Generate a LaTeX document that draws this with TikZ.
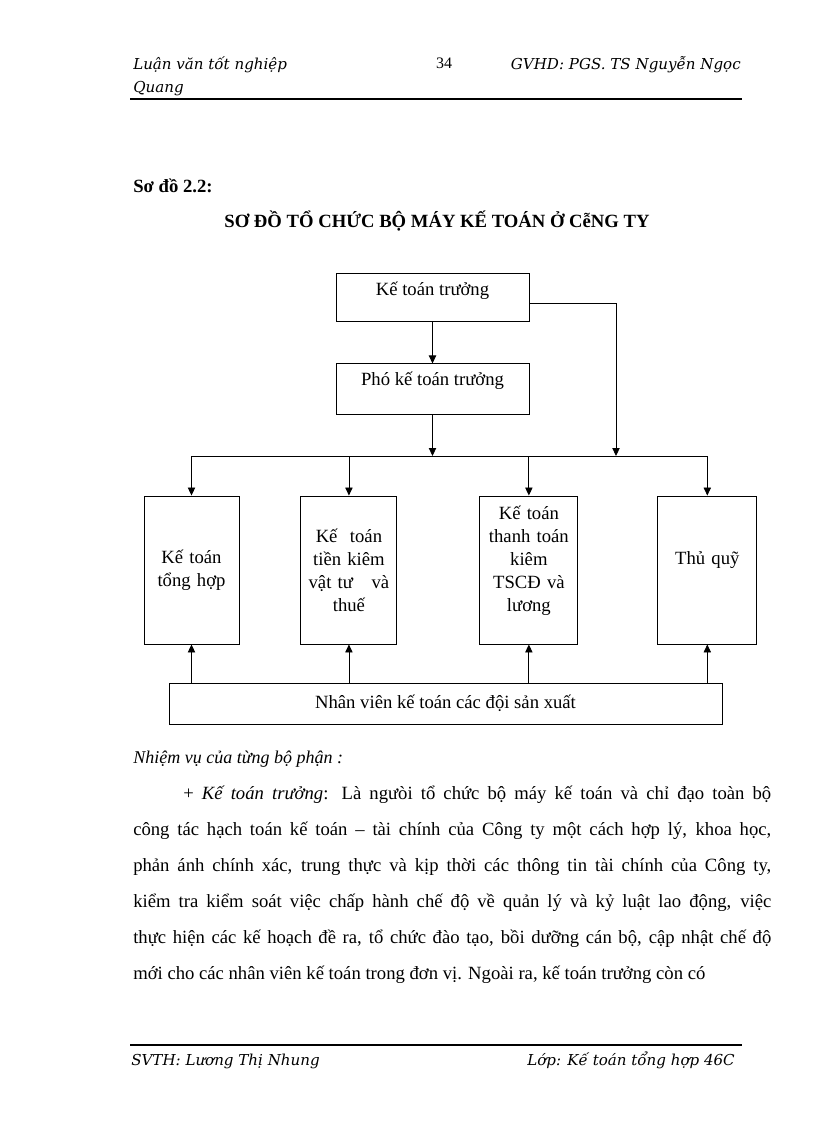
\documentclass[tikz,border=0pt]{standalone}
\usepackage{fontspec}
\setmainfont{Liberation Serif}
\newfontfamily\hdfont{DejaVu Serif}
\usetikzlibrary{positioning,arrows.meta,calc}
\newcommand\boxfont{\fontsize{14}{17.25}\selectfont}
\tikzset{
  box/.style={rectangle,draw=black,line width=0.7pt,align=center,inner sep=2pt,
    font=\boxfont},
  col/.style={box,minimum width=72pt,minimum height=111pt,text width=66pt},
  fl/.style={-{Triangle[length=6pt,width=5.5pt]},line width=0.65pt},
  hd/.style={font=\hdfont\itshape\fontsize{11.3}{14}\selectfont,inner sep=0pt},
  rule/.style={line width=1.8pt},
}
\begin{document}
\begin{tikzpicture}[x=0.75pt,y=-0.75pt]
  \useasboundingbox (0,0) rectangle (816,1123);
  % header and footer
  \node[hd,anchor=base west] (lv) at (133,70) {Luận văn tốt nghiệp};
  \node[hd,anchor=base west] (qg) at (133,93) {Quang};
  \node[inner sep=0pt,anchor=base,font=\fontsize{12}{14}\selectfont] (pg) at (444,69) {34};
  \node[hd,anchor=base east] (gv) at (741,70) {GVHD: PGS. TS Nguyễn Ngọc};
  \draw[rule] (130,99) -- (742,99);
  \draw[rule] (130,1045) -- (742,1045);
  \node[hd,anchor=base west] (sv) at (131,1065) {SVTH: Lương Thị Nhung};
  \node[hd,anchor=base east] (lop) at (735,1065) {Lớp: Kế toán tổng hợp 46C};
  % titles
  \node[inner sep=0pt,anchor=base west,font=\bfseries\fontsize{14}{16}\selectfont] (so) at (133,193) {Sơ đồ 2.2:};
  \node[inner sep=0pt,anchor=base,font=\bfseries\fontsize{14}{16}\selectfont] (tt) at (437,228)
    {SƠ ĐỒ TỔ CHỨC BỘ MÁY KẾ TOÁN Ở CễNG TY};
  % chart
  \node[box,minimum width=144.75pt,minimum height=36pt,text height=9pt,text depth=12pt] (kt) at (432.5,297) {Kế toán trưởng};
  \node[box,minimum width=144.75pt,minimum height=38pt,text height=9pt,text depth=15pt,below=31.5pt of kt] (pho) {Phó kế toán trưởng};
  \node[col,minimum width=71.25pt] (tonghop) at (191.5,570) {Kế toán\\tổng hợp};
  \node[col,right=45.75pt of tonghop] (tien) {Kế\ \ toán\\tiền kiêm\\vật tư\ \ \ và\\thuế};
  \node[col,minimum width=73.5pt,right=61.5pt of tien] (thanhtoan) {Kế toán\\thanh toán\\kiêm\\TSCĐ và\\lương\\\mbox{}};
  \node[col,minimum width=74.25pt,right=59.25pt of thanhtoan] (thuquy) {Thủ quỹ\\\mbox{}};
  \node[box,minimum width=414.75pt,minimum height=30.75pt] (nv) at (445.5,703.5) {Nhân viên kế toán các đội sản xuất};
  \coordinate (bus) at (0,456);
  \coordinate (rt) at (616,303);
  \draw[fl] (kt) -- (pho);
  \draw[fl] (pho.south) -- (pho.south |- bus);
  \draw[fl] (kt.east |- rt) -- (rt) -- (rt |- bus);
  \draw[line width=0.65pt] (tonghop.north |- bus) -- (thuquy.north |- bus);
  \foreach \b in {tonghop,tien,thanhtoan,thuquy}{
    \draw[fl] (\b.north |- bus) -- (\b.north);
    \draw[fl] (\b.south |- nv.north) -- (\b.south);
  }
  % text below
  \node[inner sep=0pt,anchor=base west,font=\itshape\fontsize{13.5}{16}\selectfont] (nvu) at (133,763) {Nhiệm vụ của từng bộ phận :};
  \node[inner sep=0pt,anchor=north west,text width=478.5pt,align=justify,
    font=\fontsize{14}{27}\selectfont] (para) at (133,786)
    {\hspace*{37.5pt}+ \textit{Kế toán trưởng}: Là ngưòi tổ chức bộ máy kế toán và chỉ đạo toàn bộ\linebreak
     công tác hạch toán kế toán – tài chính của Công ty một cách hợp lý, khoa học,\linebreak
     phản ánh chính xác, trung thực và kịp thời các thông tin tài chính của Công ty,\linebreak
     kiểm tra kiểm soát việc chấp hành chế độ về quản lý và kỷ luật lao động, việc\linebreak
     thực hiện các kế hoạch đề ra, tổ chức đào tạo, bồi dưỡng cán bộ, cập nhật chế độ\linebreak
     mới cho các nhân viên kế toán trong đơn vị. Ngoài ra, kế toán trưởng còn có};
\end{tikzpicture}
\end{document}
